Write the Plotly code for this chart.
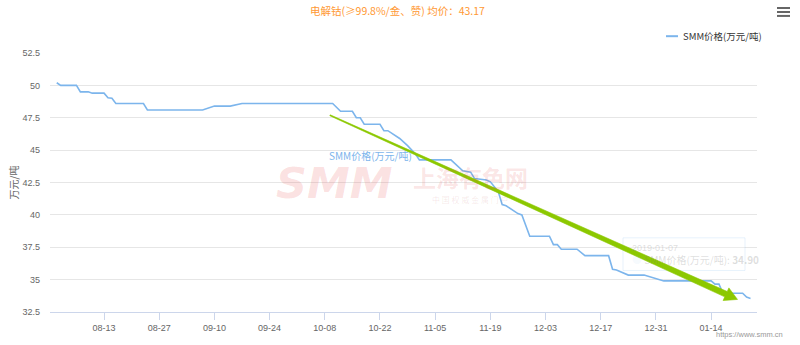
import plotly.graph_objects as go

# ---------------- data ----------------
dates = [
    "2018-08-01", "2018-08-02", "2018-08-06", "2018-08-07", "2018-08-09", "2018-08-10",
    "2018-08-13", "2018-08-14", "2018-08-15", "2018-08-16", "2018-08-23", "2018-08-24",
    "2018-09-07", "2018-09-10", "2018-09-14", "2018-09-17", "2018-10-10", "2018-10-12",
    "2018-10-15", "2018-10-16", "2018-10-17", "2018-10-18", "2018-10-22", "2018-10-23",
    "2018-10-24", "2018-10-27", "2018-10-29", "2018-10-30", "2018-10-31", "2018-11-01",
    "2018-11-09", "2018-11-12", "2018-11-14", "2018-11-15", "2018-11-18", "2018-11-19",
    "2018-11-21", "2018-11-22", "2018-11-23", "2018-11-26", "2018-11-27", "2018-11-29",
    "2018-12-04", "2018-12-05", "2018-12-06", "2018-12-07", "2018-12-11", "2018-12-13",
    "2018-12-19", "2018-12-20", "2018-12-21", "2018-12-24", "2018-12-28", "2019-01-02",
    "2019-01-14", "2019-01-15", "2019-01-16", "2019-01-17", "2019-01-22", "2019-01-23",
    "2019-01-24",
]
prices = [
    50.2, 50.0, 50.0, 49.5, 49.5, 49.4,
    49.4, 49.05, 49.0, 48.6, 48.6, 48.1,
    48.1, 48.4, 48.4, 48.6, 48.6, 48.0,
    48.0, 47.5, 47.5, 47.0, 47.0, 46.5,
    46.5, 45.9, 45.35, 45.0, 44.7, 44.25,
    44.25, 43.4, 43.3, 42.8, 42.7, 42.55,
    41.8, 40.8, 40.7, 40.1, 40.0, 38.35,
    38.35, 37.7, 37.7, 37.35, 37.35, 36.85,
    36.85, 35.8, 35.75, 35.35, 35.35, 34.9,
    34.9, 34.65, 34.65, 33.95, 33.95, 33.65,
    33.55,
]
series_name = "SMM价格(万元/吨)"
title_text = "电解钴(≥99.8%/金、赞) 均价：43.17"
y_title = "万元/吨"
tick_dates = ["2018-08-13", "2018-08-27", "2018-09-10", "2018-09-24", "2018-10-08",
              "2018-10-22", "2018-11-05", "2018-11-19", "2018-12-03", "2018-12-17",
              "2018-12-31", "2019-01-14"]
tick_labels = ["08-13", "08-27", "09-10", "09-24", "10-08", "10-22", "11-05",
               "11-19", "12-03", "12-17", "12-31", "01-14"]
y_ticks = [32.5, 35, 37.5, 40, 42.5, 45, 47.5, 50, 52.5]
y_labels = ["32.5", "35", "37.5", "40", "42.5", "45", "47.5", "50", "52.5"]
tooltip_date = "2019-01-07"
tooltip_value = "34.90"

# ---------------- layout geometry ----------------
W, H = 800, 345
L, R, T, B = 50, 43, 53, 30
PW = W - L - R
PH = H - T - B


def px(x):
    return (x - L) / PW


def py(y):
    return (H - B - y) / PH


CJK = "Noto Sans CJK SC, Noto Sans, sans-serif"
TICKF = "Liberation Sans, Arial, sans-serif"

fig = go.Figure()
fig.add_trace(go.Scatter(
    x=dates, y=prices, mode="lines", name=series_name,
    line=dict(color="#7cb5ec", width=1.6), hoverinfo="skip", showlegend=False,
))

shapes = []
annotations = []


def ann(x, y, text, family=CJK, size=10, color="#333333", xanchor="center", **kw):
    annotations.append(dict(xref="paper", yref="paper", x=px(x), y=py(y), text=text,
                            xanchor=xanchor, yanchor="middle", showarrow=False,
                            font=dict(family=family, size=size, color=color), **kw))


# watermark
ann(334, 185, "<b><i>SMM</i></b>", family="DejaVu Sans", size=43, color="rgba(230,70,70,0.16)")
ann(470, 178, "<b>上海有色网</b>", size=23, color="rgba(230,70,70,0.15)")
ann(470, 201, "中 国 权 威 金 属 门 户", size=8, color="rgba(190,70,70,0.13)")

# faded tooltip
shapes.append(dict(type="rect", xref="paper", yref="paper", x0=px(623), x1=px(745), y0=py(240), y1=py(273),
                   line=dict(color="rgba(124,181,236,0.18)", width=1), fillcolor="rgba(255,255,255,0.25)"))
ann(630, 250, tooltip_date, family=TICKF, size=9, color="rgba(120,120,120,0.25)", xanchor="left")
ann(630, 262, "<span style='color:rgba(124,181,236,0.3)'>●</span> " + series_name + ": <b>" + tooltip_value + "</b>",
    size=10, color="rgba(120,120,120,0.25)", xanchor="left")

# series label
ann(370, 157, series_name, size=10, color="#7cb5ec")

# green hand-drawn arrow (tapered)
pts = [(329.8, 116.45), (724.75, 299.7), (723.1, 303.4), (737.5, 302.3),
       (728.9, 290.6), (727.25, 294.3), (330.2, 115.55)]
path = "M " + " L ".join(f"{px(x):.5f},{py(y):.5f}" for x, y in pts) + " Z"
shapes.append(dict(type="path", xref="paper", yref="paper", path=path,
                   fillcolor="#8cc800", line=dict(color="#8cc800", width=0.6)))

# legend (manual)
shapes.append(dict(type="line", xref="paper", yref="paper", x0=px(666), x1=px(678), y0=py(36), y1=py(36),
                   line=dict(color="#7cb5ec", width=2)))
ann(681, 36, series_name, size=9.5, color="#333333", xanchor="left")

# title
ann(397, 10, title_text, size=10.5, color="#ff9933")

# y axis title
ann(13, 184, y_title, size=10, color="#666666", textangle=-90)

# credits
ann(785, 338, "https://www.smm.cn", family=TICKF, size=7.5, color="#999999", xanchor="right")

# menu icon
for yy in (7.5, 11.5, 15.5):
    shapes.append(dict(type="line", xref="paper", yref="paper", x0=px(777), x1=px(790), y0=py(yy), y1=py(yy),
                       line=dict(color="#666666", width=2)))

fig.update_layout(
    width=W, height=H,
    margin=dict(l=L, r=R, t=T, b=B, pad=0),
    paper_bgcolor="white", plot_bgcolor="white",
    showlegend=False,
    shapes=shapes, annotations=annotations,
    xaxis=dict(
        type="date", range=["2018-07-30 07:00", "2019-01-25 15:30"],
        tickvals=tick_dates, ticktext=tick_labels,
        showgrid=False, zeroline=False,
        showline=True, linecolor="#ccd6eb", linewidth=1,
        ticks="outside", ticklen=7, tickcolor="#ccd6eb", tickwidth=1,
        tickfont=dict(family=TICKF, size=9, color="#666666"),
        fixedrange=True,
    ),
    yaxis=dict(
        range=[32.5, 52.5], tickvals=y_ticks, ticktext=y_labels,
        showgrid=True, gridcolor="#e6e6e6", gridwidth=1, zeroline=False, showline=False,
        ticks="", ticklabelstandoff=9,
        tickfont=dict(family=TICKF, size=9, color="#666666"),
        fixedrange=True,
    ),
)

fig.write_html("out.html", config={"displayModeBar": False})
